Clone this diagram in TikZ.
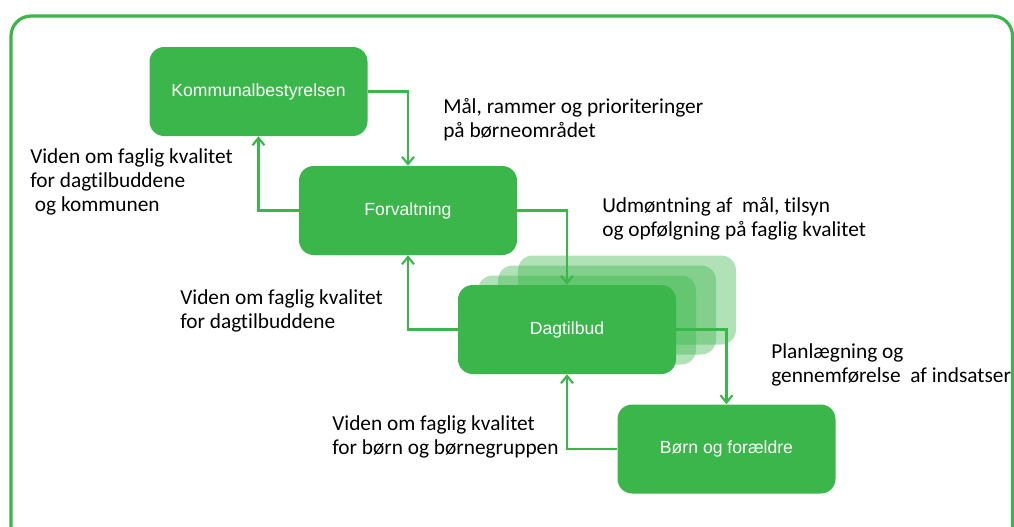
\documentclass[tikz,border=0pt]{standalone}
\usepackage{fontspec}
\setmainfont{Carlito}[Ligatures=NoCommon]
\newfontfamily\boxfont{Liberation Sans}
\usetikzlibrary{arrows.meta}
\definecolor{kgreen}{RGB}{59,182,74}
\tikzset{
  box/.style={rounded corners=11pt, fill=kgreen, minimum width=163.5pt, minimum height=66.75pt,
    text=white, font=\boxfont\fontsize{13.2}{15}\selectfont, inner sep=0pt},
  ghost/.style={rounded corners=11pt, fill=kgreen, fill opacity=0.4, minimum width=163.5pt, minimum height=66.75pt, inner sep=0pt},
  arr/.style={draw=kgreen, line width=1.6pt, -{Straight Barb[length=5.5pt,width=9pt,line width=1.6pt]}},
  lbl/.style={anchor=base west, align=left, inner sep=0pt, font=\fontsize{16}{18}\selectfont}
}
\begin{document}
\begin{tikzpicture}[x=0.75pt,y=-0.75pt]
\useasboundingbox (0,0) rectangle (1014,526);
\draw[kgreen, line width=2.4pt, rounded corners=15pt] (11,16) rectangle (1012.5,600);

\node[ghost] (g1) at (627,300) {};
\node[ghost] (g2) at (607,310) {};
\node[ghost] (g3) at (587,320) {};

\node[box] (K) at (258.5,91.5) {Kommunalbestyrelsen};
\node[box] (F) at (408,210.5) {Forvaltning};
\node[box] (D) at (567,329.5) {Dagtilbud};
\node[box] (B) at (726.5,449) {Børn og forældre};

\draw[arr] (K.east) -| (F.north);
\draw[arr] (F.west) -| (K.south);
\draw[arr] (F.east) -| (D.north);
\draw[arr] (D.west) -| (F.south);
\draw[arr] (D.east) -| (B.north);
\draw[arr] (B.west) -| (D.south);

\node[lbl] (l1) at (443,137) {Mål, rammer og prioriteringer\\på børneområdet};
\node[lbl] (l2) at (30,211) {Viden om faglig kvalitet\\for dagtilbuddene\\\hspace*{3.5pt}og kommunen};
\node[lbl] (l3) at (602,236) {Udmøntning af\ \ mål, tilsyn\\og opfølgning på faglig kvalitet};
\node[lbl] (l4) at (180,328) {Viden om faglig kvalitet\\for dagtilbuddene};
\node[lbl] (l5) at (771,382) {Planlægning og\\gennemførelse\ \ af indsatser};
\node[lbl] (l6) at (332,454) {Viden om faglig kvalitet\\for børn og børnegruppen};
\draw[kgreen, line width=2.4pt] (1012.5,40) -- (1012.5,526);
\end{tikzpicture}
\end{document}
